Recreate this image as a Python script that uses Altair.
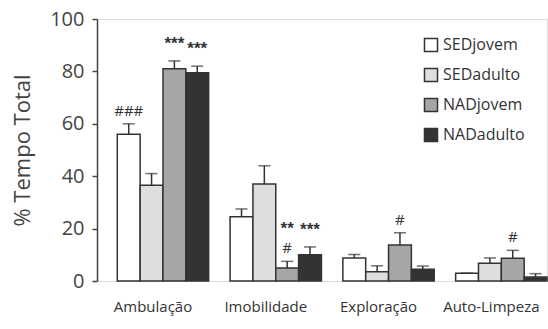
import altair as alt
import pandas as pd

groups = ["Ambulação", "Imobilidade", "Exploração", "Auto-Limpeza"]
series = ["SEDjovem", "SEDadulto", "NADjovem", "NADadulto"]

sed_jovem = [56.0, 24.5, 8.8, 3.0]
sed_adulto = [36.5, 37.0, 3.5, 6.8]
nad_jovem = [81.0, 5.0, 13.7, 8.7]
nad_adulto = [79.5, 10.0, 4.5, 1.5]

sed_jovem_err = [4.0, 3.0, 1.3, 0.0]
sed_adulto_err = [4.5, 7.0, 2.3, 2.0]
nad_jovem_err = [3.0, 2.5, 4.7, 3.0]
nad_adulto_err = [2.5, 3.0, 1.2, 1.3]

# significance marks: group, series, text, stacking level
ann_group = ["Ambulação", "Ambulação", "Ambulação", "Imobilidade", "Imobilidade", "Imobilidade", "Exploração", "Auto-Limpeza"]
ann_series = ["SEDjovem", "NADjovem", "NADadulto", "NADjovem", "NADjovem", "NADadulto", "NADjovem", "NADjovem"]
ann_text = ["###", "***", "***", "#", "**", "***", "#", "#"]
ann_level = [0, 0, 0, 0, 1, 0, 0, 0]

colors = ["#ffffff", "#dedede", "#a6a6a6", "#333333"]

means = [sed_jovem, sed_adulto, nad_jovem, nad_adulto]
errs = [sed_jovem_err, sed_adulto_err, nad_jovem_err, nad_adulto_err]
rows = []
for s, m, e in zip(series, means, errs):
    for g, v, ev in zip(groups, m, e):
        rows.append({"grupo": g, "serie": s, "media": v, "topo": v + ev})
df = pd.DataFrame(rows)

ann = pd.DataFrame({"grupo": ann_group, "serie": ann_series, "texto": ann_text, "nivel": ann_level})
ann = ann.merge(df, on=["grupo", "serie"])
ann["tipo"] = ["hash" if "#" in t else "star" for t in ann["texto"]]

FONT = "Open Sans"
STARFONT = "Liberation Sans"

x = alt.X("grupo:N", sort=groups, title=None,
          scale=alt.Scale(paddingInner=0.19, paddingOuter=0.09, align=1),
          axis=alt.Axis(domain=False, ticks=False, labelAngle=0, labelFontSize=15,
                        labelColor="#333", labelPadding=18, labelOffset=-10, labelFont=FONT))
xo = alt.XOffset("serie:N", sort=series, scale=alt.Scale(paddingInner=0, paddingOuter=0))

base = alt.Chart(df)

bars = base.mark_bar(stroke="#333", strokeWidth=1.5).encode(
    x=x, xOffset=xo,
    y=alt.Y("media:Q", title="% Tempo Total",
            scale=alt.Scale(domain=[0, 100]),
            axis=alt.Axis(values=[0, 20, 40, 60, 80, 100], grid=False, tickSize=5,
                          domainColor="#444", tickColor="#444", domainWidth=1.5, tickWidth=1.5,
                          labelFontSize=20, labelColor="#444", labelPadding=8, labelFont=FONT,
                          titleFontSize=22, titleFontWeight="normal", titleColor="#444",
                          titlePadding=15, titleFont=FONT)),
    fill=alt.Fill("serie:N", sort=series,
                  scale=alt.Scale(domain=series, range=colors),
                  legend=alt.Legend(title=None, orient="none", legendX=326, legendY=18,
                                    symbolType="square", symbolSize=170,
                                    symbolStrokeColor="#333", symbolStrokeWidth=1.5,
                                    labelFontSize=16, labelColor="#333", labelFont=FONT,
                                    rowPadding=10, labelOffset=4)),
)

whisk = base.mark_rule(color="#333", strokeWidth=1.5).encode(
    x=x, xOffset=xo, y="media:Q", y2="topo:Q")

caps = base.mark_tick(color="#333", thickness=1.5, size=12, orient="horizontal").encode(
    x=x, xOffset=xo, y="topo:Q")

annb = alt.Chart(ann)
hashes = annb.transform_filter("datum.tipo == 'hash'").mark_text(
    font=FONT, fontSize=15, color="#333", baseline="bottom", dy=-5).encode(
    x=x, xOffset=xo, y="topo:Q", text="texto:N")
stars0 = annb.transform_filter("datum.tipo == 'star' && datum.nivel == 0").mark_text(
    font=STARFONT, fontSize=17, fontWeight="bold", color="#333", baseline="bottom", dy=-8).encode(
    x=x, xOffset=xo, y="topo:Q", text="texto:N")
stars1 = annb.transform_filter("datum.tipo == 'star' && datum.nivel == 1").mark_text(
    font=STARFONT, fontSize=17, fontWeight="bold", color="#333", baseline="bottom", dy=-23).encode(
    x=x, xOffset=xo, y="topo:Q", text="texto:N")

chart = alt.layer(bars, whisk, caps, hashes, stars0, stars1).properties(
    width=450, height=262,
    autosize=alt.AutoSizeParams(type="none"),
    padding={"left": 97, "top": 19, "right": 1, "bottom": 48},
).configure_view(stroke=None).configure(font=FONT)

chart.save("out.html", embed_options={"renderer": "svg", "actions": False})
